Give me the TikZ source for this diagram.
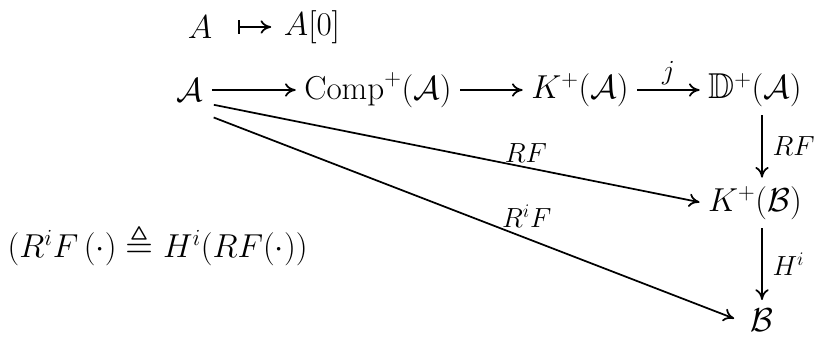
\documentclass[tikz,border=0pt]{standalone}
\usepackage{amsmath,amssymb}
\usetikzlibrary{arrows.meta}

\begin{document}
\begin{tikzpicture}[x=0.75pt,y=-0.75pt,
    font=\fontsize{27}{31}\selectfont,
    map/.style={-{To[length=8pt,width=10pt]}, line width=1.3pt, shorten <=3pt, shorten >=3pt},
    lbl/.style={font=\fontsize{20}{24}\selectfont}]
    \useasboundingbox (0,0) rectangle (817,341);
    % A |-> A[0]
    \node (objA) at (200,27) {$A$};
    \node (objA0) at (312,27) {$A[0]$};
    \draw[{Bar[width=10pt]}-{To[length=8pt,width=10pt]}, line width=1.3pt,
      shorten <=16pt, shorten >=6pt] (objA) -- (objA0);
    % Top row
    \node (calA) at (190,90) {$\mathcal{A}$};
    \node (comp) at (378,90) {$\mathrm{Comp}^{+}(\mathcal{A})$};
    \node (kA) at (580,90) {$K^{+}(\mathcal{A})$};
    \node (dA) at (755,90) {$\mathbb{D}^{+}(\mathcal{A})$};
    % Right column
    \node (kB) at (755,203) {$K^{+}(\mathcal{B})$};
    \node (calB) at (762,320) {$\mathcal{B}$};
    \draw[map] (calA) -- (comp);
    \draw[map] (comp) -- (kA);
    \draw[map] (kA) -- node[lbl,above] {$j$} (dA);
    \draw[map] (dA.south -| calB) -- node[lbl,right,xshift=4pt] {$RF$} (kB.north -| calB);
    \draw[map] (kB.south -| calB) -- node[lbl,right,xshift=4pt] {$H^{i}$} (calB);
    % Diagonals
    \draw[map] (calA.south east) ++(2,-2) -- node[lbl,above,pos=0.64] {$RF$} (kB.west);
    \draw[map] (calA.south east) ++(2,10) -- node[lbl,above,pos=0.6,yshift=4pt] {$R^{i}F$} ([xshift=-6pt]calB.west);
    % Side note
    \node[anchor=west] (note) at (3,245) {$(R^{i}F\,(\cdot)\triangleq H^{i}(RF(\cdot))$};
\end{tikzpicture}
\end{document}
